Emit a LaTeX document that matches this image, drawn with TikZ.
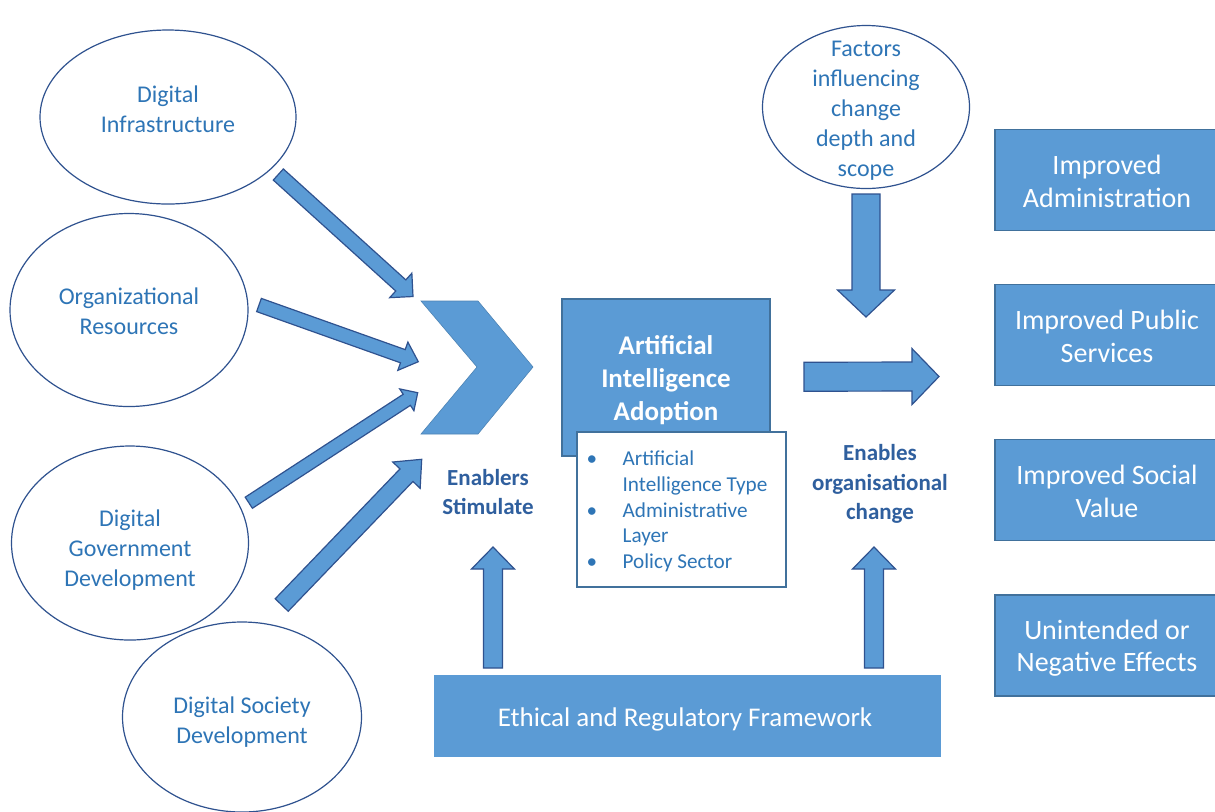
\documentclass[tikz,border=0pt]{standalone}
\usepackage{fontspec}
\setmainfont{Carlito}
\usetikzlibrary{calc,shapes.geometric}
\definecolor{fillblue}{HTML}{5B9BD5}
\definecolor{edgeblue}{HTML}{41719C}
\definecolor{darkedge}{HTML}{2F528F}
\definecolor{txtblue}{HTML}{2E75B6}
\definecolor{boldblue}{HTML}{2F5F9E}
\tikzset{
  ell/.style={ellipse, draw=darkedge, line width=0.6pt, fill=white, inner sep=0pt},
  blk/.style={fill=fillblue, draw=darkedge, line width=0.6pt, line join=miter},
  outbox/.style={rectangle, fill=fillblue, draw=edgeblue, line width=0.6pt, text=white,
    align=center, minimum width=112pt, minimum height=50.5pt, inner sep=0pt,
    font=\fontsize{14}{16.3}\selectfont},
  lbl/.style={text=boldblue, align=center, font=\bfseries\fontsize{11.5}{14.75}\selectfont},
  plain/.style={text=txtblue, align=center, font=\fontsize{12}{15}\selectfont, inner sep=0pt},
}
\newcommand{\blockarrow}[5]{%
  \coordinate (bh) at ($(#2)!#5!(#1)$);
  \draw[blk] ($(#1)!#3!90:(#2)$) -- ($(bh)!#3!90:(#2)$) -- ($(bh)!#4!90:(#2)$) -- (#2)
    -- ($(bh)!#4!-90:(#2)$) -- ($(bh)!#3!-90:(#2)$) -- ($(#1)!#3!-90:(#2)$) -- cycle;}
\begin{document}
\begin{tikzpicture}[x=0.5pt,y=-0.5pt]
\useasboundingbox (0,0) rectangle (1215,811);
\fill[white] (0,0) rectangle (1215,811);

% ellipses
\node[ell, minimum width=128pt, minimum height=87pt] (di) at (168,117) {};
\node[plain] (ditext) at (168,109) {Digital\\Infrastructure};
\node[ell, minimum width=119pt, minimum height=96.5pt] (or) at (129,310) {};
\node[plain] (ortext) at (129,311.5) {Organizational\\Resources};
\node[ell, minimum width=118.5pt, minimum height=97pt] (dgd) at (130,543) {};
\node[plain] (dgdtext) at (130,550) {Digital\\Government\\Development};
\node[ell, minimum width=119.5pt, minimum height=95pt] (dsd) at (242,717) {};
\node[plain] (dsdtext) at (242,722) {Digital Society\\Development};
\node[ell, minimum width=103.5pt, minimum height=81.5pt] (fac) at (866,107) {};
\node[plain] (factext) at (866,110.5) {Factors\\influencing\\change\\depth and\\scope};

% chevron
\draw[fill=fillblue, draw=fillblue!85!black, line width=0.3pt, line join=miter]
  (421,301) -- (478,301) -- (533,367) -- (478,434) -- (421,434) -- (477,367) -- cycle;
\coordinate (chev) at (477,367);

% block arrows
\coordinate (a1s) at (278.3,174.5); \coordinate (a1t) at (413,296.5);
\coordinate (a2s) at (259,305);     \coordinate (a2t) at (418.3,361.7);
\coordinate (a3s) at (248.8,502.7); \coordinate (a3t) at (417.7,392.7);
\coordinate (a4s) at (281.7,605);   \coordinate (a4t) at (421.7,459.3);
\coordinate (a5s) at (866,194);     \coordinate (a5t) at (866,317);
\coordinate (a6s) at (804,376.7);   \coordinate (a6t) at (939,376.5);
\coordinate (a7s) at (493,668);     \coordinate (a7t) at (493,547);
\coordinate (a8s) at (874,668);     \coordinate (a8t) at (874,547);
\blockarrow{a1s}{a1t}{3.75pt}{8.25pt}{8.25pt}
\blockarrow{a2s}{a2t}{3.5pt}{7.5pt}{8.2pt}
\blockarrow{a3s}{a3t}{3.3pt}{6.5pt}{6.5pt}
\blockarrow{a4s}{a4t}{4.5pt}{9.5pt}{11pt}
\blockarrow{a5s}{a5t}{7pt}{14.25pt}{13.5pt}
\blockarrow{a6s}{a6t}{7.25pt}{14pt}{13.5pt}
\blockarrow{a7s}{a7t}{4.75pt}{10.75pt}{11pt}
\blockarrow{a8s}{a8t}{4.75pt}{10.75pt}{11pt}

% central boxes
\node[rectangle, fill=fillblue, draw=edgeblue, line width=0.6pt, minimum width=104pt,
  minimum height=78.5pt, inner sep=0pt] (ai) at (666,377.5) {};
\node[text=white, align=center, inner sep=0pt,
  font=\bfseries\fontsize{13.5}{16.5}\selectfont] (aitext) at (666,380.5)
  {Artificial\\Intelligence\\Adoption};
\node[rectangle, fill=white, draw=edgeblue, line width=0.6pt, minimum width=104.5pt,
  minimum height=77.5pt, inner sep=0pt] (list) at (681.5,509.5) {};
\node[text=txtblue, align=left, inner sep=0pt,
  font=\fontsize{10.6}{12.9}\selectfont] (listtext) at (677,511.5)
  {\makebox[18pt][l]{\textbullet}Artificial\\
   \hspace*{18pt}Intelligence Type\hspace*{4pt}\\
   \makebox[18pt][l]{\textbullet}Administrative\\
   \hspace*{18pt}Layer\\
   \makebox[18pt][l]{\textbullet}Policy Sector};

\node[rectangle, fill=fillblue, minimum width=253.5pt, minimum height=41pt, inner sep=0pt]
  (eth) at (687.5,716) {};
\node[text=white, inner sep=0pt, font=\fontsize{13.5}{16}\selectfont] (ethtext)
  at (685,719) {Ethical and Regulatory Framework};

% labels
\node[lbl] (enab) at (488,492) {Enablers\\Stimulate};
\node[lbl] (org) at (880,484) {Enables\\organisational\\change};

% outcome boxes
\node[outbox] (o1) at (1107,180) {};
\node[outbox, draw=none, fill=none] (o1t) at (1107,181.5) {Improved\\Administration};
\node[outbox] (o2) at (1107,335) {};
\node[outbox, draw=none, fill=none] (o2t) at (1107,336.5) {Improved Public\\Services};
\node[outbox] (o3) at (1107,490) {};
\node[outbox, draw=none, fill=none] (o3t) at (1107,491.5) {Improved Social\\Value};
\node[outbox] (o4) at (1107,645.5) {};
\node[outbox, draw=none, fill=none] (o4t) at (1107,648) {Unintended or\\Negative Effects};
\end{tikzpicture}
\end{document}
